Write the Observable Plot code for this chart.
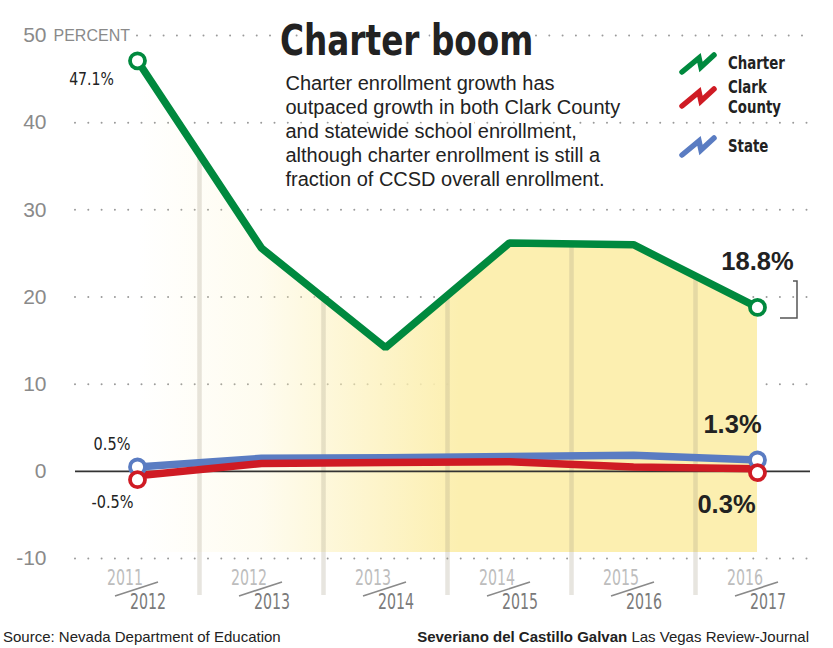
<!DOCTYPE html>
<html><head><meta charset="utf-8">
<script src="https://cdn.jsdelivr.net/npm/d3@7"></script>
<script src="https://cdn.jsdelivr.net/npm/@observablehq/plot@0.6"></script>
<style>
body{margin:0;background:#fff;}
#wrap{position:relative;width:833px;height:648px;overflow:hidden;}
#footer{position:absolute;left:0;top:624px;width:833px;height:24px;display:flex;justify-content:space-between;align-items:center;font-family:"Liberation Sans",Arial,sans-serif;font-size:15px;color:#222;}
#footer .l{padding-left:3px}
#footer .r{padding-right:24px}
</style></head><body><div id="wrap"><div id="footer"><span class="l">Source: Nevada Department of Education</span><span class="r"><b>Severiano del Castillo Galvan</b> Las Vegas Review-Journal</span></div></div>
<script>
// ---- data ----
const categories = ["2011/2012","2012/2013","2013/2014","2014/2015","2015/2016","2016/2017"];
const topYears = ["2011","2012","2013","2014","2015","2016"];
const bottomYears = ["2012","2013","2014","2015","2016","2017"];
const charter = [47.1, 25.6, 14.2, 26.2, 26.0, 18.8];
const clark = [-0.5, 0.9, 1.0, 1.1, 0.5, 0.3];
const state = [0.5, 1.5, 1.55, 1.7, 1.85, 1.3];
const yTicks = [-10, 0, 10, 20, 30, 40, 50];
const seriesNames = ["Charter", "Clark\nCounty", "State"];
const seriesColors = ["#00893e", "#cf1b24", "#5a7cc2"];
const title = "Charter boom";
const subtitle = "Charter enrollment growth has\noutpaced growth in both Clark County\nand statewide school enrollment,\nalthough charter enrollment is still a\nfraction of CCSD overall enrollment.";

const cond = '"DejaVu Sans Condensed","DejaVu Sans",sans-serif';
const regular = '"Liberation Sans",Arial,sans-serif';
const fillFloor = -9.3;

const rows = categories.map((c, i) => ({cat: c, top: topYears[i], bottom: bottomYears[i], charter: charter[i], clark: clark[i], state: state[i]}));
const first = rows[0], last = rows[rows.length - 1];
const ends = [first, last];
const mids = rows.slice(0, -1).map((d, i) => ({cat: d.cat, y: (d.charter + rows[i + 1].charter) / 2}));
const pct = v => v.toFixed(1) + "%";
const [green, red, blue] = seriesColors;

// text drawn through the scales, with optional horizontal condensing
function textMark(items, o) {
  return (index, scales, values, dims) => {
    const g = d3.create("svg:g");
    items.forEach(d => {
      const [px, py] = o.pos(d, scales, dims);
      const t = g.append("text")
        .attr("transform", `translate(${px + (o.dx || 0)},${py + (o.dy || 0)}) scale(${o.sx || 1},1)`)
        .attr("text-anchor", o.anchor || "middle")
        .attr("font-family", o.family || cond)
        .attr("font-size", o.size)
        .attr("font-weight", o.weight || "normal")
        .attr("fill", o.fill || "#222")
        .text(o.text(d));
      if (o.halo) t.attr("stroke", "white").attr("stroke-width", o.halo).attr("paint-order", "stroke").attr("stroke-linejoin", "round");
    });
    return g.node();
  };
}
const at = key => (d, s) => [s.x(d.cat), s.y(d[key])];

function legendMark(index, scales, values, dims) {
  const g = d3.create("svg:g");
  const cx = dims.width - dims.marginRight - 112;
  const centers = [29, 63, 112].map(v => v + dims.marginTop);
  const icon = [[-16, 8], [1, -6], [3, 3], [16, -9]];
  seriesNames.forEach((name, i) => {
    g.append("path")
      .attr("d", d3.line()(icon.map(([a, b]) => [cx + a, centers[i] + b])))
      .attr("fill", "none").attr("stroke", seriesColors[i]).attr("stroke-width", 5.5)
      .attr("stroke-linecap", "round").attr("stroke-linejoin", "miter");
    const lines = name.split("\n");
    lines.forEach((ln, j) => {
      const by = centers[i] + 5 + (j - (lines.length - 1) / 2) * 20;
      g.append("text").attr("transform", `translate(${cx + 30},${by}) scale(0.8,1)`)
        .attr("text-anchor", "start").attr("font-family", cond).attr("font-weight", "bold")
        .attr("font-size", 18.5).attr("fill", "#222").text(ln);
    });
  });
  return g.node();
}

function slashMark(index, scales) {
  const g = d3.create("svg:g");
  const y0 = scales.y(-10);
  categories.forEach(c => {
    const cx = scales.x(c);
    g.append("line").attr("x1", cx - 22).attr("y1", y0 + 38).attr("x2", cx + 21).attr("y2", y0 + 24)
      .attr("stroke", "#8a8a8a").attr("stroke-width", 1.6);
  });
  return g.node();
}

function bracketMark(index, scales) {
  const x = scales.x(last.cat), y = scales.y(last.charter);
  return d3.create("svg:path")
    .attr("d", `M${x + 36},${y - 26}H${x + 40}V${y + 11}H${x + 23}`)
    .attr("fill", "none").attr("stroke", "#555").attr("stroke-width", 1.5).node();
}

const plot = Plot.plot({
  width: 833, height: 624,
  marginLeft: 75, marginRight: 23, marginTop: 35, marginBottom: 66,
  x: {type: "point", domain: categories, range: [137, 757], padding: 0, axis: null},
  y: {domain: [-10, 50], axis: null},
  style: {fontFamily: regular, background: "white"},
  marks: [
    Plot.ruleY(yTicks.filter(d => d !== 0 && d !== 50), {stroke: "#9a9a9a", strokeWidth: 2, strokeDasharray: "0,13.3", strokeLinecap: "round"}),
    Plot.ruleY([50], {stroke: "#9a9a9a", strokeWidth: 2, strokeDasharray: "0,13.3", strokeLinecap: "round", insetLeft: 62}),
    Plot.areaY(rows, {x: "cat", y1: () => fillFloor, y2: "charter", fill: "url(#yellowGrad)"}),
    Plot.ruleX(mids, {x: "cat", y1: "y", y2: () => -10, dx: 62, stroke: "#a09880", strokeOpacity: 0.25, strokeWidth: 4.5, insetBottom: -37}),
    Plot.ruleY([0], {stroke: "#333", strokeWidth: 1.6}),
    Plot.line(rows, {x: "cat", y: "state", stroke: blue, strokeWidth: 7.5, strokeLinejoin: "round"}),
    Plot.line(rows, {x: "cat", y: "clark", stroke: red, strokeWidth: 7.5, strokeLinejoin: "round"}),
    Plot.line(rows, {x: "cat", y: "charter", stroke: green, strokeWidth: 7.5, strokeLinejoin: "miter"}),
    Plot.dot(ends, {x: "cat", y: "state", r: 7.5, fill: "white", stroke: blue, strokeWidth: 3.8}),
    Plot.dot(ends, {x: "cat", y: "clark", r: 7.5, fill: "white", stroke: red, strokeWidth: 3.8, dy: 4}),
    Plot.dot(ends, {x: "cat", y: "charter", r: 7.5, fill: "white", stroke: green, strokeWidth: 3.8}),
    // value labels
    textMark([first], {pos: at("charter"), text: d => pct(d.charter), dx: -45.5, dy: 24.7, size: 18, sx: 0.87}),
    textMark([first], {pos: at("state"), text: d => pct(d.state), dx: -25, dy: -16.5, size: 18.5, sx: 0.87}),
    textMark([first], {pos: at("clark"), text: d => pct(d.clark), dx: -24.5, dy: 32.7, size: 18.5, sx: 0.87}),
    textMark([last], {pos: at("charter"), text: d => pct(d.charter), dx: 0.5, dy: -37, size: 25.5, family: regular, weight: "bold"}),
    textMark([last], {pos: at("state"), text: d => pct(d.state), dx: -24.5, dy: -26.5, size: 25.5, family: regular, weight: "bold"}),
    textMark([last], {pos: at("clark"), text: d => pct(d.clark), dx: -30.5, dy: 44.6, size: 25.5, family: regular, weight: "bold"}),
    bracketMark,
    // y axis labels
    Plot.text(yTicks, {y: d => d, frameAnchor: "left", text: d => String(d), textAnchor: "end", dx: -29, fontSize: 21, fill: "#8a8a8a"}),
    Plot.text(["PERCENT"], {y: () => 50, frameAnchor: "left", text: d => d, textAnchor: "start", dx: -22, fontSize: 16, fill: "#8a8a8a"}),
    // x axis labels
    textMark(rows, {pos: (d, s) => [s.x(d.cat), s.y(-10)], text: d => d.top, dx: -12, dy: 27, size: 21, sx: 0.75, fill: "#bdbdbd"}),
    textMark(rows, {pos: (d, s) => [s.x(d.cat), s.y(-10)], text: d => d.bottom, dx: 11, dy: 51, size: 21, sx: 0.75, fill: "#7a7a7a"}),
    slashMark,
    // title & subtitle
    textMark([title], {pos: (d, s, dims) => [dims.marginLeft, dims.marginTop], text: d => d, dx: 205, dy: 20, anchor: "start", size: 43, weight: "bold", sx: 0.846, fill: "#222", halo: 8}),
    Plot.text([subtitle], {frameAnchor: "top-left", text: d => d, dx: 210, dy: 95, textAnchor: "start", lineAnchor: "middle", lineHeight: 1.2, fontFamily: regular, fontSize: 20, fill: "#222", stroke: "white", strokeWidth: 7}),
    legendMark
  ]
});

// gradient definition for the shaded area
const svgNS = "http://www.w3.org/2000/svg";
const defs = document.createElementNS(svgNS, "defs");
defs.innerHTML = `<linearGradient id="yellowGrad" gradientUnits="userSpaceOnUse" x1="137" y1="0" x2="757" y2="0">
  <stop offset="0" stop-color="#fcefb0" stop-opacity="0"/>
  <stop offset="0.2" stop-color="#fcefb0" stop-opacity="0.2"/>
  <stop offset="0.52" stop-color="#fcefb0" stop-opacity="1"/>
  <stop offset="1" stop-color="#fcefb0" stop-opacity="1"/>
</linearGradient>`;
plot.insertBefore(defs, plot.firstChild);
document.getElementById("wrap").insertBefore(plot, document.getElementById("footer"));
</script></body></html>
